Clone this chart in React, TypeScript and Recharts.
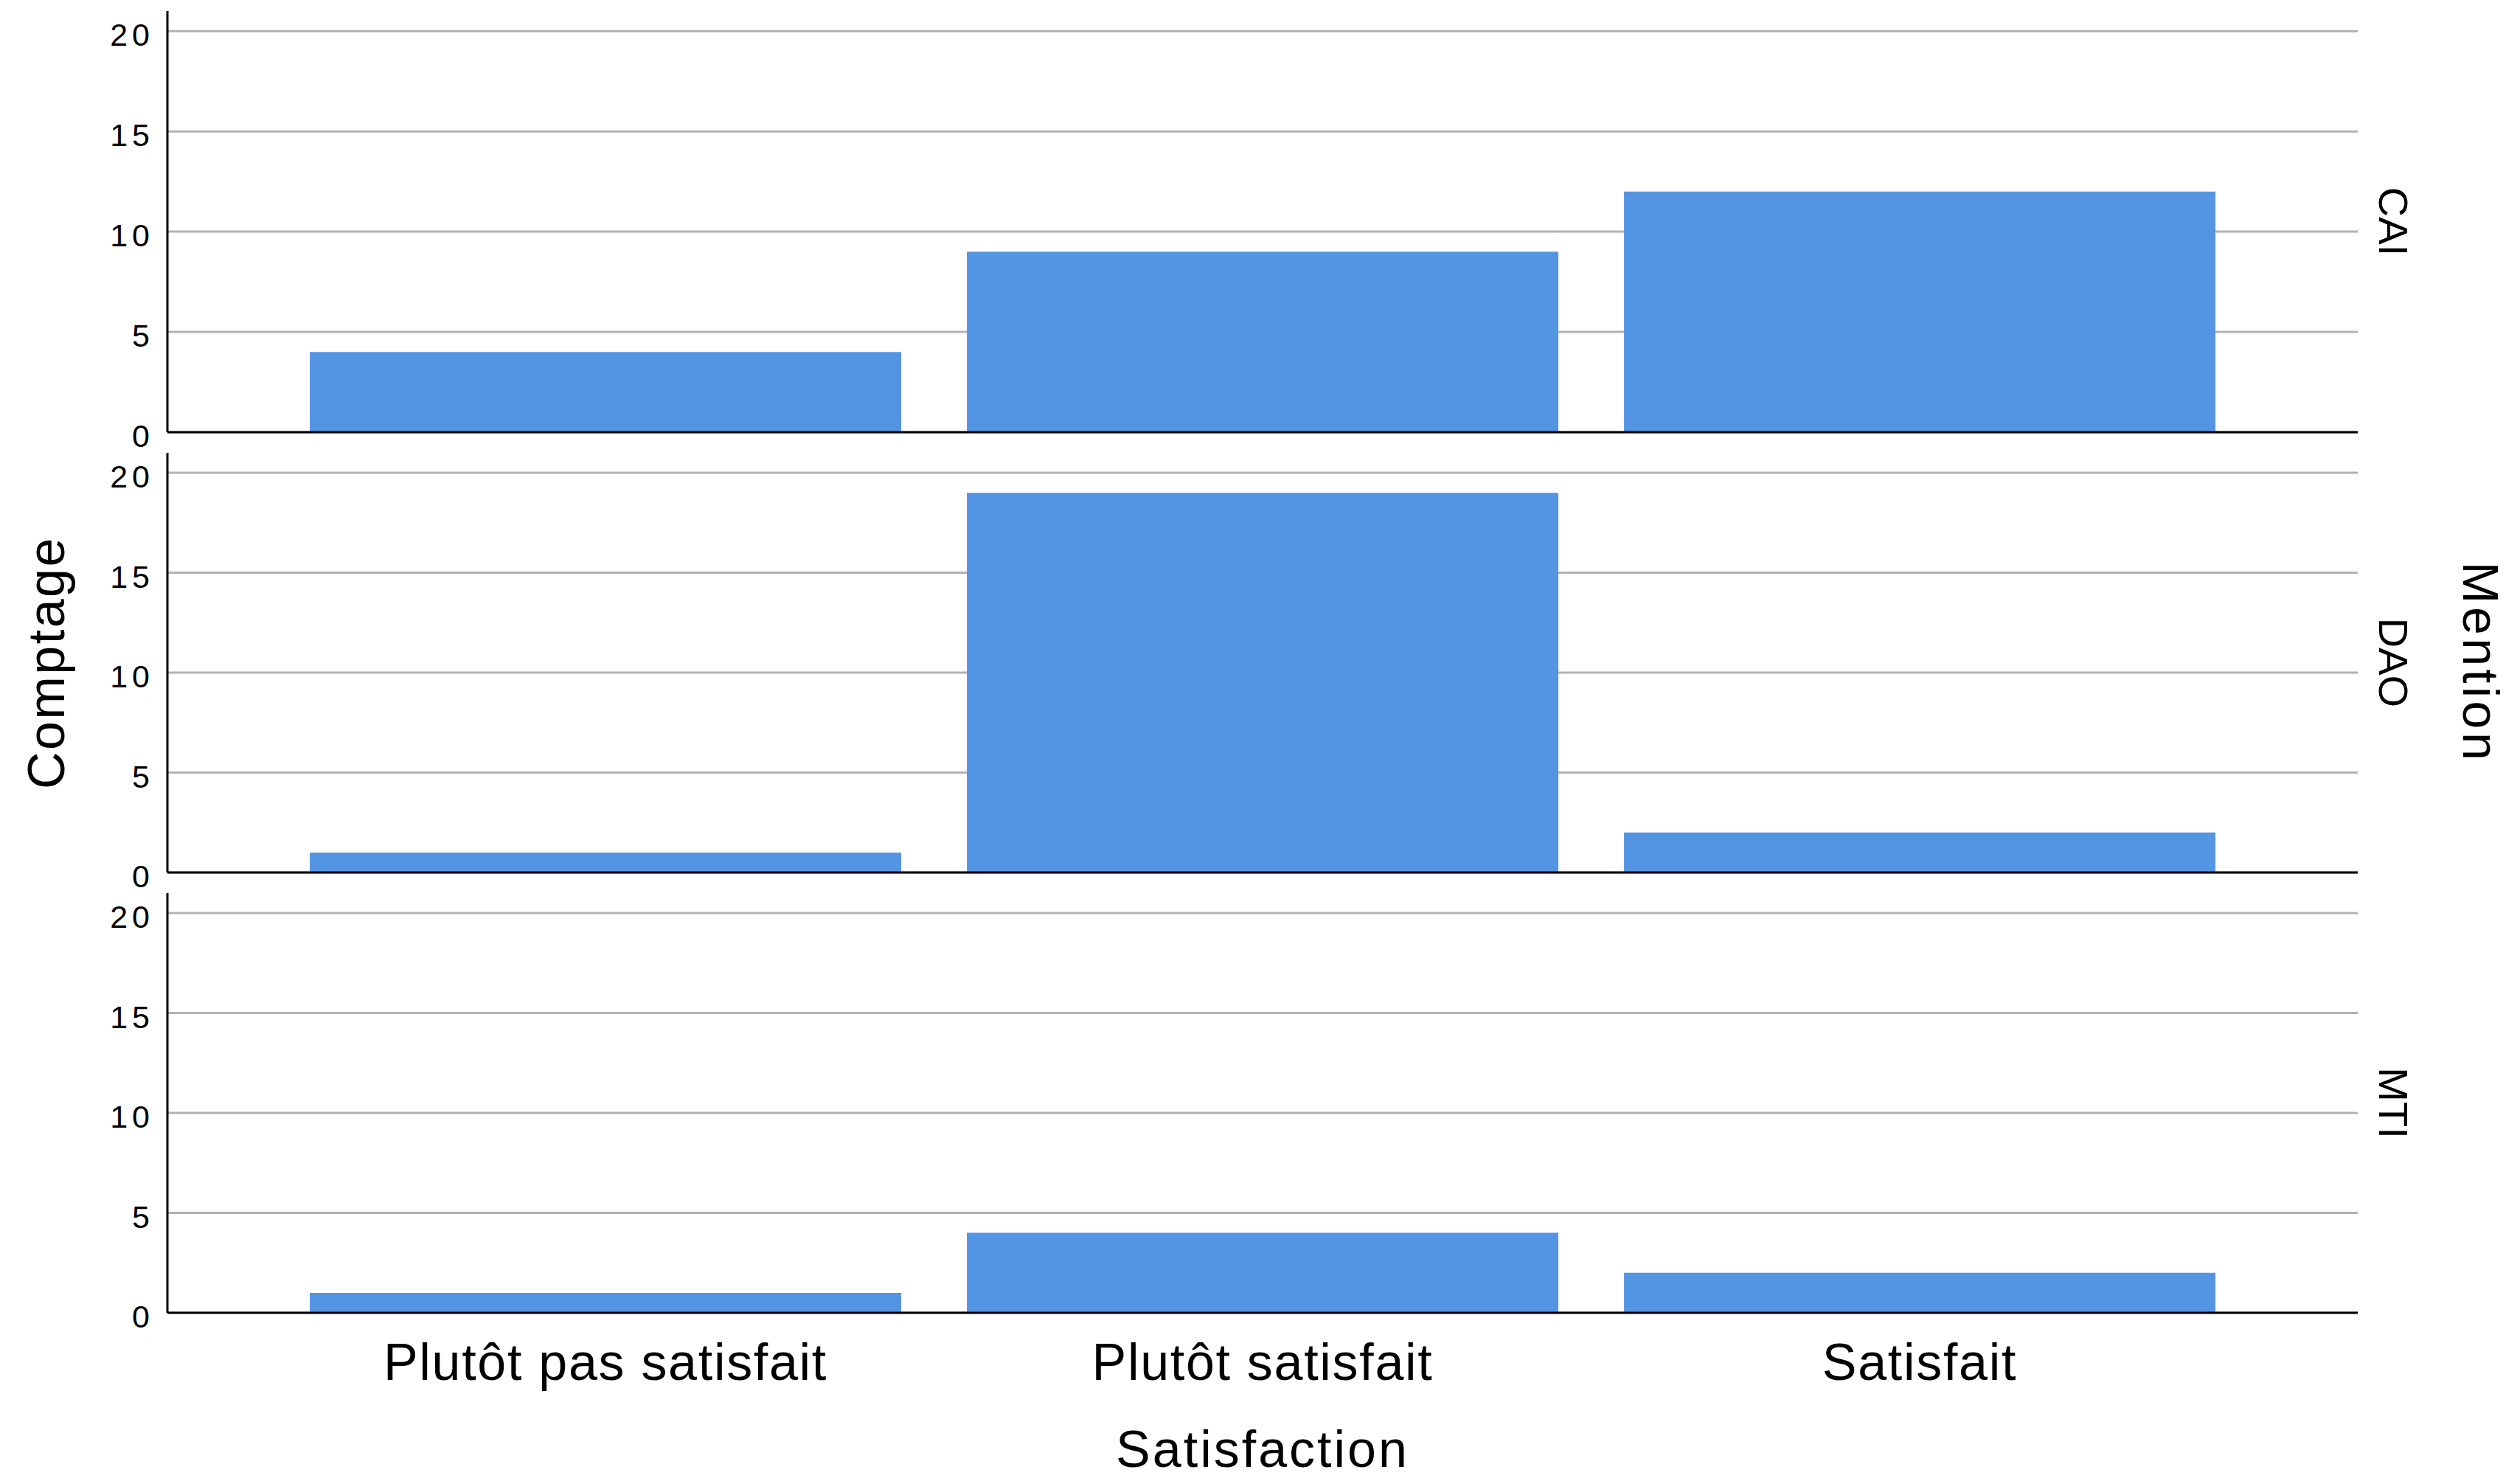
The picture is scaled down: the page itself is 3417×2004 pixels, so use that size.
import React from 'react';
import { BarChart, Bar, XAxis, YAxis, CartesianGrid } from 'recharts';

const categories = ['Plutôt pas satisfait', 'Plutôt satisfait', 'Satisfait'];
const mentions = ['CAI', 'DAO', 'MTI'];
const caiCounts = [4, 9, 12];
const daoCounts = [1, 19, 2];
const mtiCounts = [1, 4, 2];
const countTicks = [0, 5, 10, 15, 20];

const seriesByMention = [caiCounts, daoCounts, mtiCounts];

const FONT = '"Liberation Sans", Arial, Helvetica, sans-serif';
const BAR_COLOR = '#5495E3';
const GRID_COLOR = '#b2b2b2';

const YTick = (props: any) => {
  const { x, y, payload } = props;
  return (
    <text
      x={x}
      y={y}
      dy={20}
      textAnchor="end"
      fontFamily={FONT}
      fontSize={43}
      letterSpacing={6}
      fill="#000"
    >
      {payload.value}
    </text>
  );
};

const XTick = (props: any) => {
  const { x, y, payload } = props;
  return (
    <text
      x={x}
      y={y}
      dy={54}
      textAnchor="middle"
      fontFamily={FONT}
      fontSize={70}
      letterSpacing={1.7}
      fill="#000"
    >
      {payload.value}
    </text>
  );
};

const facetLabel = (name: string, withTitle: boolean) => (props: any) => {
  const { x, y, height } = props.viewBox;
  const cy = y + height / 2;
  const fx = x + 29;
  const tx = x + 143;
  return (
    <g>
      <text
        x={fx}
        y={cy}
        transform={`rotate(90 ${fx} ${cy})`}
        textAnchor="middle"
        fontFamily={FONT}
        fontSize={56}
        fill="#000"
      >
        {name}
      </text>
      {withTitle && (
        <text
          x={tx}
          y={cy}
          transform={`rotate(90 ${tx} ${cy})`}
          textAnchor="middle"
          fontFamily={FONT}
          fontSize={68}
          letterSpacing={4.5}
          fill="#000"
        >
          Mention
        </text>
      )}
    </g>
  );
};

const countTitle = (props: any) => {
  const { x, y, height } = props.viewBox;
  const cy = y + height / 2;
  const cx = x + 87;
  return (
    <text
      x={cx}
      y={cy}
      transform={`rotate(-90 ${cx} ${cy})`}
      textAnchor="middle"
      fontFamily={FONT}
      fontSize={70}
      letterSpacing={2.5}
      fill="#000"
    >
      Comptage
    </text>
  );
};

const satisfactionTitle = (props: any) => {
  const { x, y, width } = props.viewBox;
  return (
    <text
      x={x + width / 2}
      y={y + 209}
      textAnchor="middle"
      fontFamily={FONT}
      fontSize={70}
      letterSpacing={3}
      fill="#000"
    >
      Satisfaction
    </text>
  );
};

// top, height, margin top, x-axis height for each panel
const panelLayout = [
  { top: 0, height: 630, marginTop: 15, axisHeight: 44 },
  { top: 590, height: 637, marginTop: 24, axisHeight: 44 },
  { top: 1187, height: 817, marginTop: 24, axisHeight: 224 },
];

const Panel = ({ index }: { index: number }) => {
  const layout = panelLayout[index];
  const isLast = index === mentions.length - 1;
  const data = categories.map((c, i) => ({ satisfaction: c, count: seriesByMention[index][i] }));

  return (
    <div style={{ position: 'absolute', left: 0, top: layout.top }}>
      <BarChart
        width={3417}
        height={layout.height}
        data={data}
        margin={{ top: layout.marginTop, right: 0, bottom: 0, left: 0 }}
        barCategoryGap="5%"
      >
        <CartesianGrid
          yAxisId="count"
          vertical={false}
          horizontalValues={countTicks}
          stroke={GRID_COLOR}
          strokeWidth={3}
        />
        <XAxis
          dataKey="satisfaction"
          height={layout.axisHeight}
          padding={{ left: 148.5, right: 148.5 }}
          axisLine={{ stroke: '#000', strokeWidth: 3 }}
          tickLine={false}
          tickSize={0}
          tickMargin={37}
          tick={isLast ? <XTick /> : false}
          interval={0}
          label={isLast ? { content: satisfactionTitle } : undefined}
        />
        <YAxis
          yAxisId="count"
          width={227}
          domain={[0, 21]}
          ticks={countTicks}
          interval={0}
          axisLine={{ stroke: '#000', strokeWidth: 3 }}
          tickLine={false}
          tickSize={0}
          tickMargin={18}
          tick={<YTick />}
          label={index === 1 ? { content: countTitle } : undefined}
        />
        <YAxis
          yAxisId="facet"
          orientation="right"
          width={220}
          domain={[0, 1]}
          tick={false}
          axisLine={false}
          tickLine={false}
          label={{ content: facetLabel(mentions[index], index === 1) }}
        />
        <Bar yAxisId="count" dataKey="count" fill={BAR_COLOR} isAnimationActive={false} />
      </BarChart>
    </div>
  );
};

export default function App() {
  return (
    <div
      style={{
        position: 'fixed',
        left: 0,
        top: 0,
        width: 3417,
        height: 2004,
        background: '#fff',
        overflow: 'hidden',
      }}
    >
      {mentions.map((m, i) => (
        <Panel key={m} index={i} />
      ))}
    </div>
  );
}
